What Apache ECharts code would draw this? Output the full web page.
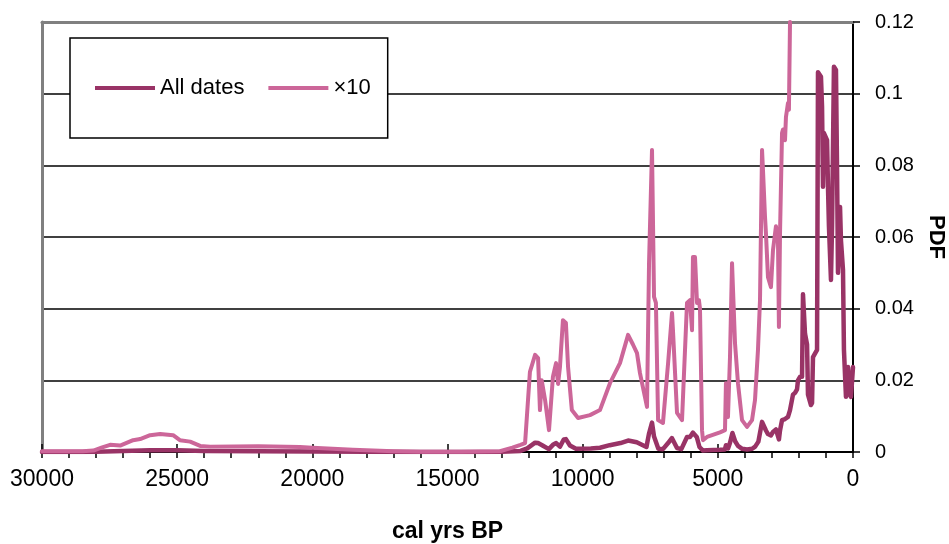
<!DOCTYPE html>
<html>
<head>
<meta charset="utf-8">
<script src="https://cdn.jsdelivr.net/npm/echarts@6/dist/echarts.min.js"></script>
<style>
  html, body { margin: 0; padding: 0; background: #fff; }
  #chart { width: 949px; height: 544px; }
</style>
</head>
<body>
<div id="chart"></div>
<script>
var seriesNames = ['All dates', '×10'];

// [cal yrs BP, PDF]
var allDates = [
  [30000, 0], [28500, 0], [28000, 0.0001], [27000, 0.0003], [26000, 0.0005],
  [25000, 0.0005], [24000, 0.0003], [22000, 0.00018], [20000, 0.00015], [18000, 0.0001],
  [16000, 0.00003], [14000, 0], [13000, 0.0001], [12300, 0.0003], [12050, 0.001],
  [11760, 0.0026], [11650, 0.0025], [11500, 0.0019], [11250, 0.0008], [11100, 0.002],
  [10980, 0.0025], [10840, 0.0015], [10700, 0.0035], [10620, 0.0036], [10470, 0.0018],
  [10250, 0.0009], [9700, 0.001], [9360, 0.0012], [9000, 0.0019], [8600, 0.0025],
  [8320, 0.0032], [8000, 0.0027], [7640, 0.0014], [7550, 0.005], [7435, 0.0082],
  [7360, 0.0043], [7290, 0.004], [7200, 0.0009], [7030, 0.0008], [6840, 0.0025],
  [6700, 0.0039], [6510, 0.0011], [6350, 0.0008], [6140, 0.0042], [6030, 0.0042],
  [5920, 0.0054], [5780, 0.0042], [5680, 0.0014], [5550, 0.0004], [5400, 0.0005],
  [4920, 0.0006], [4740, 0.0007], [4700, 0.0019], [4620, 0.001], [4550, 0.0026],
  [4460, 0.0053], [4360, 0.003], [4255, 0.0017], [4100, 0.0009], [3920, 0.0007],
  [3730, 0.0009], [3620, 0.0015], [3500, 0.0029], [3365, 0.0084], [3330, 0.0079],
  [3220, 0.006], [3145, 0.005], [3035, 0.0046], [2960, 0.0056], [2850, 0.0063],
  [2740, 0.0035], [2700, 0.006], [2625, 0.0089], [2515, 0.0092], [2405, 0.0098],
  [2330, 0.0117], [2220, 0.016], [2145, 0.0165], [2070, 0.0175], [2035, 0.02],
  [1960, 0.021], [1885, 0.021], [1850, 0.044], [1810, 0.044], [1775, 0.033],
  [1700, 0.03], [1665, 0.016], [1555, 0.0131], [1515, 0.0137], [1480, 0.0265],
  [1330, 0.0285], [1295, 0.106], [1185, 0.1047], [1145, 0.0963], [1110, 0.074],
  [1075, 0.089], [960, 0.087], [925, 0.074], [890, 0.063], [815, 0.048],
  [775, 0.063], [705, 0.1075], [630, 0.1066], [590, 0.0787], [555, 0.05],
  [480, 0.0684], [445, 0.059], [370, 0.0508], [335, 0.0285], [260, 0.0154],
  [185, 0.0237], [120, 0.016], [75, 0.0154], [0, 0.0237]
];

// same curve times ten, runs off the top of the plot near 2300 BP
var times10 = [
  [30000, 0.0002], [28500, 0.0002], [28100, 0.0004], [27800, 0.0012], [27480, 0.002],
  [27110, 0.0018], [26630, 0.0033], [26370, 0.0036], [26000, 0.0047], [25630, 0.005],
  [25150, 0.0047], [24900, 0.0033], [24520, 0.0029], [24150, 0.0017], [23780, 0.0015],
  [22000, 0.0016], [20460, 0.0014], [20000, 0.0012], [18500, 0.0006], [17000, 0.0002],
  [16000, 0.0001], [14500, 0.0001], [13060, 0.0002], [12600, 0.0012], [12300, 0.002],
  [12130, 0.0025], [11950, 0.0224], [11760, 0.0271], [11650, 0.0262], [11580, 0.0117],
  [11515, 0.02], [11390, 0.0145], [11245, 0.0061], [11100, 0.021], [10985, 0.0248],
  [10910, 0.019], [10840, 0.0237], [10730, 0.0368], [10620, 0.036], [10540, 0.0237],
  [10400, 0.0117], [10170, 0.0095], [9730, 0.0103], [9360, 0.0117], [8990, 0.0192],
  [8620, 0.0248], [8320, 0.0327], [8140, 0.030], [7990, 0.0276], [7880, 0.022],
  [7620, 0.0126], [7545, 0.0527], [7435, 0.0843], [7360, 0.0433], [7290, 0.0416],
  [7210, 0.0089], [7030, 0.0081], [6840, 0.0248], [6695, 0.0388], [6660, 0.034],
  [6510, 0.0109], [6325, 0.0089], [6140, 0.0416], [6030, 0.0424], [5955, 0.034],
  [5920, 0.0544], [5845, 0.0544], [5770, 0.0416], [5700, 0.0424], [5660, 0.040],
  [5585, 0.0061], [5550, 0.0033], [5400, 0.0042], [4920, 0.0055], [4735, 0.0061],
  [4700, 0.0192], [4625, 0.0098], [4550, 0.0265], [4475, 0.0527], [4440, 0.0527],
  [4365, 0.0304], [4255, 0.0192], [4105, 0.0089], [3920, 0.007], [3735, 0.0089],
  [3625, 0.0145], [3515, 0.0285], [3440, 0.0424], [3365, 0.0843], [3330, 0.0787],
  [3255, 0.0656], [3220, 0.061], [3145, 0.0488], [3035, 0.046], [2960, 0.0563],
  [2850, 0.063], [2775, 0.059], [2740, 0.0349], [2700, 0.061], [2625, 0.089],
  [2590, 0.090], [2515, 0.087], [2480, 0.0935], [2405, 0.0974], [2370, 0.0955],
  [2330, 0.12]
];

var font = 'Liberation Sans, Arial, sans-serif';
var myChart = echarts.init(document.getElementById('chart'));

var option = {
  animation: false,
  backgroundColor: '#fff',
  textStyle: { fontFamily: font },
  grid: { left: 42, right: 96, top: 22, bottom: 92, containLabel: false, outerBoundsMode: 'none' },
  legend: {
    left: 70,
    top: 38,
    orient: 'horizontal',
    data: seriesNames,
    icon: 'rect',
    itemWidth: 60,
    itemHeight: 4,
    itemGap: 24,
    padding: [38, 17, 38, 25],
    borderColor: '#000',
    borderWidth: 1.5,
    borderRadius: 0,
    backgroundColor: '#fff',
    textStyle: { fontFamily: font, fontSize: 22, color: '#000', lineHeight: 24 }
  },
  xAxis: [
    {
      type: 'value',
      position: 'bottom',
      min: 0,
      max: 30000,
      interval: 5000,
      inverse: true,
      name: 'cal yrs BP',
      nameLocation: 'middle',
      nameGap: 68,
      nameTextStyle: { fontFamily: font, fontSize: 23, fontWeight: 'bold', color: '#000' },
      axisLine: { onZero: false, lineStyle: { color: '#000', width: 2 } },
      axisTick: { show: true, inside: false, length: 6, lineStyle: { color: '#000', width: 1.5 } },
      minorTick: { show: true, splitNumber: 5, length: 6, lineStyle: { color: '#000', width: 1.5 } },
      axisLabel: {
        fontFamily: font, fontSize: 23, color: '#000', margin: 16,
        formatter: function (v) { return String(v); }
      },
      splitLine: { show: false }
    },
    {
      // inner half of the crossing major ticks
      type: 'value',
      position: 'bottom',
      min: 0,
      max: 30000,
      interval: 5000,
      inverse: true,
      axisLine: { show: false, onZero: false },
      axisTick: { show: true, inside: true, length: 8, lineStyle: { color: '#000', width: 1.5 } },
      axisLabel: { show: false },
      splitLine: { show: false }
    },
    {
      // grey plot border, top
      type: 'value',
      position: 'top',
      min: 0,
      max: 30000,
      inverse: true,
      axisLine: { onZero: false, lineStyle: { color: '#808080', width: 3 } },
      axisTick: { show: false },
      axisLabel: { show: false },
      splitLine: { show: false }
    }
  ],
  yAxis: [
    {
      type: 'value',
      position: 'right',
      min: 0,
      max: 0.12,
      interval: 0.02,
      name: 'PDF',
      nameLocation: 'middle',
      nameRotate: -90,
      nameGap: 70,
      nameTextStyle: { fontFamily: font, fontSize: 22, fontWeight: 'bold', color: '#000' },
      axisLine: { show: true, onZero: false, lineStyle: { color: '#000', width: 2 } },
      axisTick: { show: true, inside: false, length: 7, lineStyle: { color: '#000', width: 1.5 } },
      axisLabel: { fontFamily: font, fontSize: 20, color: '#000', margin: 22 },
      splitLine: { show: true, lineStyle: { color: '#000', width: 1.5 } }
    },
    {
      // grey plot border, left
      type: 'value',
      position: 'left',
      min: 0,
      max: 0.12,
      axisLine: { show: true, onZero: false, lineStyle: { color: '#808080', width: 3 } },
      axisTick: { show: false },
      axisLabel: { show: false },
      splitLine: { show: false }
    }
  ],
  series: [
    {
      name: seriesNames[0],
      type: 'line',
      data: allDates,
      symbol: 'none',
      color: '#993366',
      lineStyle: { color: '#993366', width: 4.5, join: 'round', cap: 'round' },
      clip: true,
      z: 3
    },
    {
      name: seriesNames[1],
      type: 'line',
      data: times10,
      symbol: 'none',
      color: '#cc6699',
      lineStyle: { color: '#cc6699', width: 4, join: 'round', cap: 'round' },
      clip: true,
      z: 4
    }
  ]
};

myChart.setOption(option);
window.addEventListener('resize', function () {
  myChart.resize();
});
</script>
</body>
</html>
